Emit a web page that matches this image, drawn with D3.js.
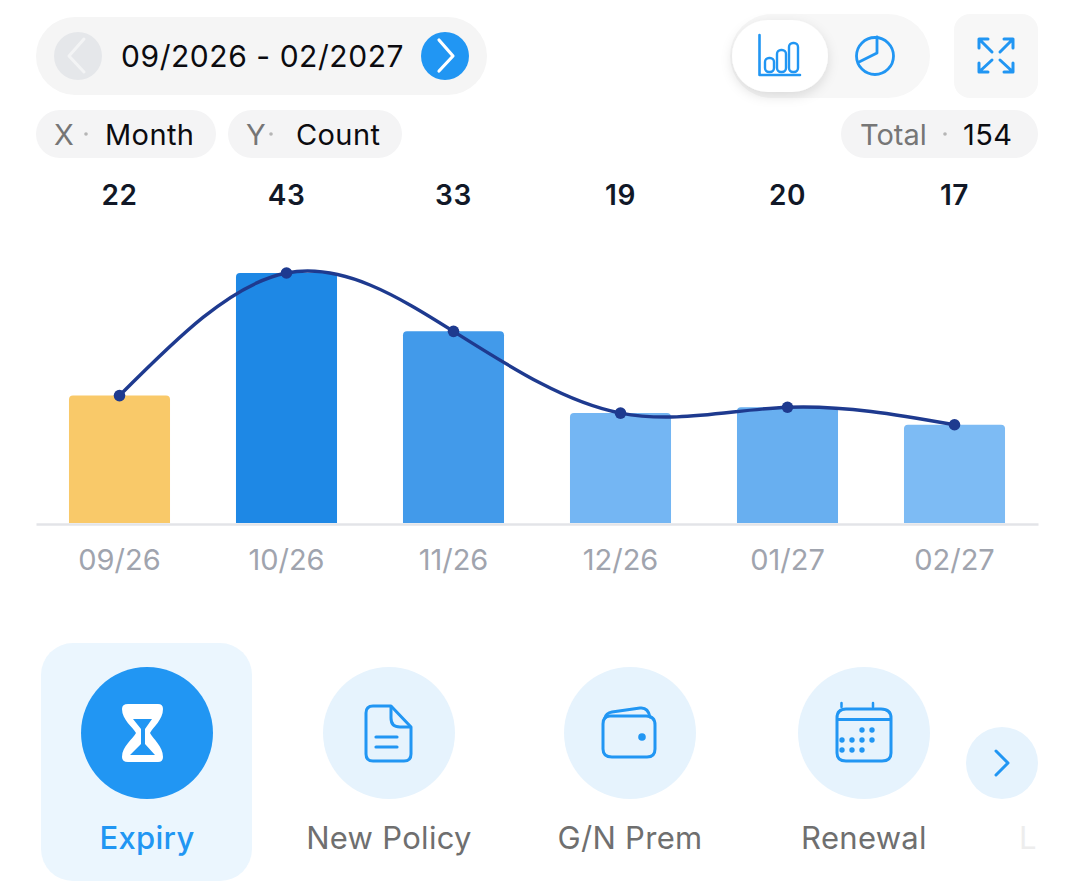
<!DOCTYPE html>
<html><head><meta charset="utf-8">
<script src="https://cdn.jsdelivr.net/npm/d3@7"></script>
<style>html,body{margin:0;padding:0;background:#fff;overflow:hidden}svg{display:block}text{font-family:Inter,"Noto Sans",sans-serif}</style>
</head><body><svg id="c" width="1074" height="890"></svg>
<script>
const months=["09/26","10/26","11/26","12/26","01/27","02/27"];
const counts=[22,43,33,19,20,17];
const barColors=["#F9C969","#1E88E5","#429AEA","#74B6F3","#68AFF0","#7DBBF4"];
const dateRange="09/2026 - 02/2027";
const xChip=["X","Month"],yChip=["Y","Count"],totalChip=["Total","154"];
const tabs=["Expiry","New Policy","G/N Prem","Renewal"];

const svg=d3.select("#c");
const BLUE="#2196F3",CHIP="#F4F4F5";
const defs=svg.append("defs");
const f=defs.append("filter").attr("id","sh").attr("x","-30%").attr("y","-30%").attr("width","160%").attr("height","170%");
f.append("feDropShadow").attr("dx",0).attr("dy",4).attr("stdDeviation",6).attr("flood-color","#000").attr("flood-opacity",.12);

function rect(x,y,w,h,r,fill,p=svg){return p.append("rect").attr("x",x).attr("y",y).attr("width",w).attr("height",h).attr("rx",r).attr("fill",fill);}
function text(x,y,s,size,fill,anchor="start",weight=400,ls=null){const t=svg.append("text").attr("x",x).attr("y",y).attr("font-size",size).attr("fill",fill).attr("text-anchor",anchor).attr("font-weight",weight).text(s);if(ls)t.attr("letter-spacing",ls);return t;}
function stroke(d,w=3,c=BLUE,tx=0,ty=0){return svg.append("path").attr("d",d).attr("fill","none").attr("stroke",c).attr("stroke-width",w).attr("stroke-linecap","round").attr("stroke-linejoin","round").attr("transform",`translate(${tx},${ty})`);}
function circle(cx,cy,r,fill){return svg.append("circle").attr("cx",cx).attr("cy",cy).attr("r",r).attr("fill",fill);}

// Header: date pager
rect(36,17,451,78,39,"#F5F5F5");
circle(78,56,24,"#E5E7EA");
stroke("M84,39 L69,56 L84,72",3,"#F1F2F3".replace("F1F2F3","F3F4F5"));
text(121,67,dateRange,30,"#0B0B0F","start",400,"0.55");
circle(445,56,24,BLUE);
stroke("M439,40 L453,56 L439,71",3.2,"#fff");

// Chart/pie toggle
rect(730,14,200,84,42,"#F7F7F7");
rect(732,20,96,72,36,"#fff").attr("filter","url(#sh)");
stroke("M759.5,35 V75 H800",2.6);
[[765,42,10],[778,42,10],[791,42,10]].forEach(([x])=>{});
[[765,58,14],[777,50,22],[789,43,29]].forEach(([x,y,h])=>rect(x,y,9,h,4,"none").attr("stroke",BLUE).attr("stroke-width",2.4));
svg.append("circle").attr("cx",875).attr("cy",56).attr("r",18.5).attr("fill","none").attr("stroke",BLUE).attr("stroke-width",2.8);
stroke("M877,37 V53 L859,62",2.8);

// Expand button
rect(954,14,84,84,16,"#F7F7F7");
stroke("M979,48 V39 H988 M979,39 L992,52",3);
stroke("M1013,48 V39 H1004 M1013,39 L1000,52",3);
stroke("M979,63 V72 H988 M979,72 L992,60",3);
stroke("M1013,63 V72 H1004 M1013,72 L1000,60",3);

// Chips
function chip(x,w,[k,v],kx,dotx,vx){
  rect(x,110,w,48,24,CHIP);
  text(kx,145,k,29,"#767676");
  circle(dotx,134,1.8,"#B5B5B5");
  text(vx,145,v,29,"#0B0B0F","start",400,"0.4");
}
chip(36,180,xChip,54,86,105);
chip(228,174,yChip,246,271,296);
chip(841,197,totalChip,860,945,963);

// Chart
const x=d3.scaleBand().domain(months).range([36,1038]).paddingInner(.395).paddingOuter(.1975);
const y=d3.scaleLinear().domain([0,43]).range([524,273]);
const cx=m=>x(m)+x.bandwidth()/2;

const xAxis=d3.axisBottom(x).tickSize(0).tickPadding(22);
const ax=svg.append("g").attr("transform","translate(0,524)").call(xAxis);
ax.select(".domain").attr("stroke","#E3E4E8").attr("stroke-width",2.5);
ax.selectAll("text").attr("font-size",29).attr("fill","#A0A4AE").attr("dy",0).attr("y",46).style("font-family","Inter");

svg.append("g").selectAll("path").data(months).join("path")
  .attr("fill",(d,i)=>barColors[i])
  .attr("d",(d,i)=>{
    const l=x(d),r=l+x.bandwidth(),t=y(counts[i]),b=y(0)-1,c=4;
    return `M${l},${b}V${t+c}Q${l},${t} ${l+c},${t}H${r-c}Q${r},${t} ${r},${t+c}V${b}Z`;
  });

svg.append("g").selectAll("text").data(months).join("text")
  .attr("x",d=>cx(d)).attr("y",205).attr("text-anchor","middle")
  .attr("font-size",28).attr("font-weight",600).attr("fill","#111827").attr("letter-spacing","0.6")
  .text((d,i)=>counts[i]);

const line=d3.line().x(d=>cx(d[0])).y(d=>y(d[1])).curve(d3.curveNatural);
svg.append("path").attr("d",line(d3.zip(months,counts))).attr("fill","none").attr("stroke","#1E3A8F").attr("stroke-width",3.4);
svg.append("g").selectAll("circle").data(d3.zip(months,counts)).join("circle")
  .attr("cx",d=>cx(d[0])).attr("cy",d=>y(d[1])).attr("r",5.8).attr("fill","#1E3A8F");

// Bottom tabs
rect(41,643,211,238,32,"#EBF6FE");
const tabX=[147,389,630,864];
tabX.forEach((tx,i)=>{
  circle(tx,733,66,i==0?BLUE:"#E6F3FD");
  text(tx,i==0?849:849,tabs[i],31,i==0?BLUE:"#6F6F6F","middle",i==0?500:400,"0.3");
});
text(1019,849,"L",31,"#EDEDED");

// Hourglass
svg.append("path").attr("fill","#fff").attr("d","M128,704 H158 Q163,704 163,709 C163,720 153,727 150,733 C153,739 163,746 163,757 Q163,762 158,762 H128 Q122,762 122,757 C122,746 133,739 136,733 C133,727 122,720 122,709 Q122,704 128,704Z");
svg.append("path").attr("fill",BLUE).attr("d","M133,719 H152 L145,729 V744 L155,755 H130 L141,744 V729 Z");

// Document
stroke("M376,705 H388 L411,729 V756 Q411,761 406,761 H361 H367 M376,705 H373 Q356,705 356,712 V754 Q356,761 363,761 H406",0);
stroke("M378,706 H373 Q366,706 366,713 V754 Q366,761 373,761 H404 Q411,761 411,754 V727 L391,706 H378",3);
stroke("M391,707 V718 Q391,727 400,727 H410",3);
stroke("M376,737 H397 M376,747 H397",3.2);

// Wallet
stroke("M610,716 H646 Q655,716 655,725 V749 Q655,757 647,757 H612 Q603,757 603,749 V724 Q603,716 610,716Z",3);
stroke("M605,718 Q606,713 612,712 L640,708 Q648,707 650,717",3);
circle(642,737,3.8,BLUE);

// Calendar
stroke("M846,709 H881 Q891,709 891,718 V753 Q891,761 882,761 H846 Q837,761 837,753 V718 Q837,709 846,709Z",3);
stroke("M838,719.5 H890",3);
stroke("M841.5,707 V703 M873,707 V703",2.5);
[[862,730],[872,730],[842,740],[852,740],[862,740],[872,740],[842,750],[852,750],[862,750]].forEach(([a,b])=>circle(a+10,b,2.7,BLUE).attr("cx",a+ (a>=872?0:0)+ (0)+ (a==842?0:0)+ 0 + 0 + 0 + 0 + 0 + 0 + 0 + 0 + 0 + 0 ));

// Scroll button
circle(1002,763,36,"#E6F3FD");
stroke("M996,751 L1008,763 L996,775",3);
</script></body></html>
